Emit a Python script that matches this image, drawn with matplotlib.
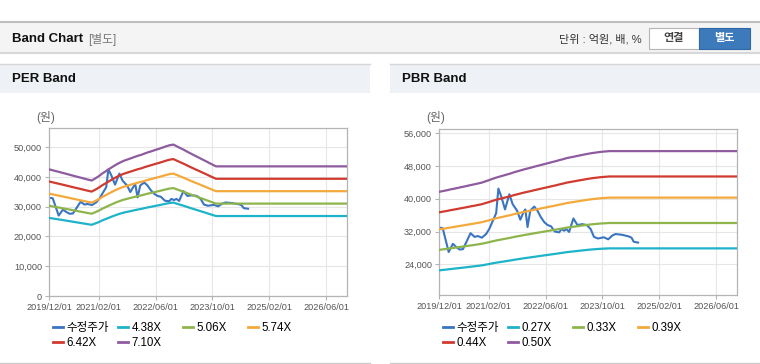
import pandas as pd
import matplotlib.pyplot as plt
import matplotlib.dates as mdates
from matplotlib.patches import Rectangle
from matplotlib.lines import Line2D
from matplotlib.ticker import FuncFormatter

plt.rcParams['font.family'] = ['Liberation Sans', 'Noto Sans CJK KR']

W, H = 760, 364

# adjusted share price (수정주가), same for both charts
price_dates = ['2019-12-01', '2020-01-02', '2020-02-22', '2020-03-29', '2020-04-27',
               '2020-05-26', '2020-06-23', '2020-07-22', '2020-08-27', '2020-10-01',
               '2020-10-29', '2020-12-02', '2021-01-08', '2021-02-05', '2021-03-06',
               '2021-04-04', '2021-04-23', '2021-05-16', '2021-06-19', '2021-07-26',
               '2021-08-23', '2021-09-30', '2021-10-28', '2021-11-25', '2021-12-10',
               '2021-12-29', '2022-01-21', '2022-02-24', '2022-03-24', '2022-04-22',
               '2022-05-21', '2022-06-18', '2022-07-17', '2022-08-20', '2022-09-26',
               '2022-10-15', '2022-11-07', '2022-11-27', '2022-12-20', '2023-01-26',
               '2023-03-01', '2023-04-12', '2023-05-20', '2023-06-23', '2023-07-21',
               '2023-08-24', '2023-10-14', '2023-11-20', '2023-12-24', '2024-01-22',
               '2024-03-19', '2024-05-15', '2024-06-07', '2024-06-26', '2024-08-02']
price = [33000, 32800, 27000, 29000, 28200, 27600, 27700, 29400, 31600, 30700,
         30900, 30500, 31400, 32700, 34600, 36500, 42500, 40700, 37400, 41100,
         38700, 37100, 34900, 36800, 37400, 33100, 37100, 38100, 37100, 35500,
         34300, 33600, 33300, 32000, 31800, 32600, 32200, 32600, 31900, 35200,
         33600, 33800, 33600, 32600, 30700, 30300, 30600, 30100, 31000, 31400,
         31200, 30800, 30500, 29500, 29300]

# monthly base values from 2019/12, flat afterwards until band_end
per_eps = [5990, 5945, 5900, 5860, 5815, 5770, 5725, 5680, 5635, 5590, 5545, 5500,
           5460, 5560, 5670, 5790, 5900, 6010, 6120, 6220, 6310, 6390, 6450, 6510,
           6570, 6630, 6680, 6740, 6800, 6850, 6910, 6960, 7020, 7080, 7130, 7160,
           7075, 6990, 6905, 6820, 6730, 6645, 6560, 6475, 6390, 6300, 6215, 6130]
per_multiples = [4.38, 5.06, 5.74, 6.42, 7.10]
per_labels = ['4.38X', '5.06X', '5.74X', '6.42X', '7.10X']

pbr_bps = [83400, 83750, 84100, 84500, 84850, 85200, 85600, 85950, 86350, 86750,
           87100, 87500, 87900, 88500, 89100, 89700, 90300, 90800, 91300, 91800,
           92300, 92900, 93400, 93900, 94400, 94850, 95300, 95750, 96200, 96650,
           97100, 97550, 98000, 98450, 98950, 99400, 99900, 100250, 100600, 100950,
           101300, 101650, 102000, 102300, 102550, 102800, 103000, 103150, 103300]
pbr_multiples = [0.27, 0.33, 0.39, 0.44, 0.50]
pbr_labels = ['0.27X', '0.33X', '0.39X', '0.44X', '0.50X']

band_start = '2019-12-01'
band_end = '2026-12-01'
tick_dates = ['2019-12-01', '2021-02-01', '2022-06-01', '2023-10-01', '2025-02-01', '2026-06-01']
per_yticks = [0, 10000, 20000, 30000, 40000, 50000]
pbr_yticks = [24000, 32000, 40000, 48000, 56000]

price_color = '#3b75c2'
band_colors = ['#1db3c8', '#8db54c', '#f4a93b', '#d13a2f', '#8f5b9f']
grid_color = '#e6e6e6'
text_color = '#555555'


def fx(x):
    return x / W


def fy(y):
    return 1 - y / H


def band_series(base):
    d = list(pd.date_range(band_start, periods=len(base), freq='MS'))
    d.append(pd.Timestamp(band_end))
    return d, list(base) + [base[-1]]


def draw_band(fig, rect, base, multiples, labels, yticks, ylim, x0):
    ax = fig.add_axes(rect)
    ax.plot(pd.to_datetime(price_dates), price, color=price_color, lw=1.5, zorder=2)
    bd, bv = band_series(base)
    for m, c in zip(multiples, band_colors):
        ax.plot(bd, [v * m for v in bv], color=c, lw=1.6, zorder=3)

    ax.set_xlim(pd.Timestamp('2019-12-01'), pd.Timestamp('2026-11-28'))
    ax.set_ylim(*ylim)
    ax.set_xticks(pd.to_datetime(tick_dates))
    ax.xaxis.set_major_formatter(mdates.DateFormatter('%Y/%m/%d'))
    ax.set_yticks(yticks)
    ax.yaxis.set_major_formatter(FuncFormatter(lambda v, p: f'{v:,.0f}'))
    ax.grid(True, color=grid_color, lw=0.8)
    ax.set_axisbelow(True)
    for s in ax.spines.values():
        s.set_color('#b4b4b4')
        s.set_linewidth(0.9)
    ax.tick_params(axis='both', colors='#b4b4b4', labelcolor=text_color,
                   labelsize=6.6, length=3, width=0.8, pad=2)

    fig.text(fx(x0 + 6), fy(118), '(원)', fontsize=8.5, color='#666666',
             ha='right', va='center')

    entries = [Line2D([], [], color=price_color, lw=2)]
    entries += [Line2D([], [], color=c, lw=2) for c in band_colors]
    names = ['수정주가'] + labels
    for col in range(4):
        fig.legend(handles=entries[col::4], labels=names[col::4], loc='upper left',
                   bbox_to_anchor=(fx(x0 + 4 + col * 65), fy(322)), frameon=False,
                   fontsize=8.3, handlelength=0.85, handletextpad=0.3,
                   labelspacing=0.22, borderpad=0, borderaxespad=0)
    return ax


fig = plt.figure(figsize=(W / 100, H / 100), dpi=100)
fig.patch.set_facecolor('white')

# top header bar
fig.add_artist(Rectangle((0, fy(53)), 1, (53 - 22) / H, transform=fig.transFigure,
                         facecolor='#f4f4f4', edgecolor='none'))
fig.add_artist(Line2D([0, 1], [fy(22), fy(22)], transform=fig.transFigure,
                      color='#bdbdbd', lw=1.5))
fig.add_artist(Line2D([0, 1], [fy(53), fy(53)], transform=fig.transFigure,
                      color='#d8d8d8', lw=1.5))
fig.text(fx(12), fy(39), 'Band Chart', fontsize=9.5, fontweight='bold',
         color='#111111', va='center')
fig.text(fx(88), fy(39), '[별도]', fontsize=8.5, color='#777777', va='center')
fig.text(fx(642), fy(39), '단위 : 억원, 배, %', fontsize=8, color='#333333',
         va='center', ha='right')
fig.add_artist(Rectangle((fx(649), fy(49)), 50 / W, 21 / H, transform=fig.transFigure,
                         facecolor='white', edgecolor='#b5b5b5', lw=0.8))
fig.add_artist(Rectangle((fx(699), fy(49)), 51 / W, 21 / H, transform=fig.transFigure,
                         facecolor='#3c7abb', edgecolor='#2f68a6', lw=0.8))
fig.text(fx(674), fy(38.5), '연결', fontsize=8, color='#444444', fontweight='bold',
         ha='center', va='center')
fig.text(fx(724.5), fy(38.5), '별도', fontsize=8, color='white', fontweight='bold',
         ha='center', va='center')

# panel headers and borders
for px0, px1, title in [(0, 370, 'PER Band'), (390, 760, 'PBR Band')]:
    fig.add_artist(Rectangle((fx(px0), fy(93)), (px1 - px0) / W, 29 / H,
                             transform=fig.transFigure, facecolor='#eef1f6',
                             edgecolor='none'))
    fig.add_artist(Line2D([fx(px0), fx(px1)], [fy(64), fy(64)], transform=fig.transFigure,
                          color='#d6d6d6', lw=1))
    fig.add_artist(Line2D([fx(px0), fx(px1)], [fy(362.5), fy(362.5)],
                          transform=fig.transFigure, color='#cccccc', lw=1))
    fig.text(fx(px0 + 12), fy(79), title, fontsize=9.5, fontweight='bold',
             color='#111111', va='center')

draw_band(fig, [fx(49), fy(296), 298 / W, 168 / H], per_eps, per_multiples,
          per_labels, per_yticks, (0, 56400), 49)
draw_band(fig, [fx(439), fy(295), 298 / W, 166 / H], pbr_bps, pbr_multiples,
          pbr_labels, pbr_yticks, (16500, 57050), 439)

fig.savefig('out.png', dpi=100)
